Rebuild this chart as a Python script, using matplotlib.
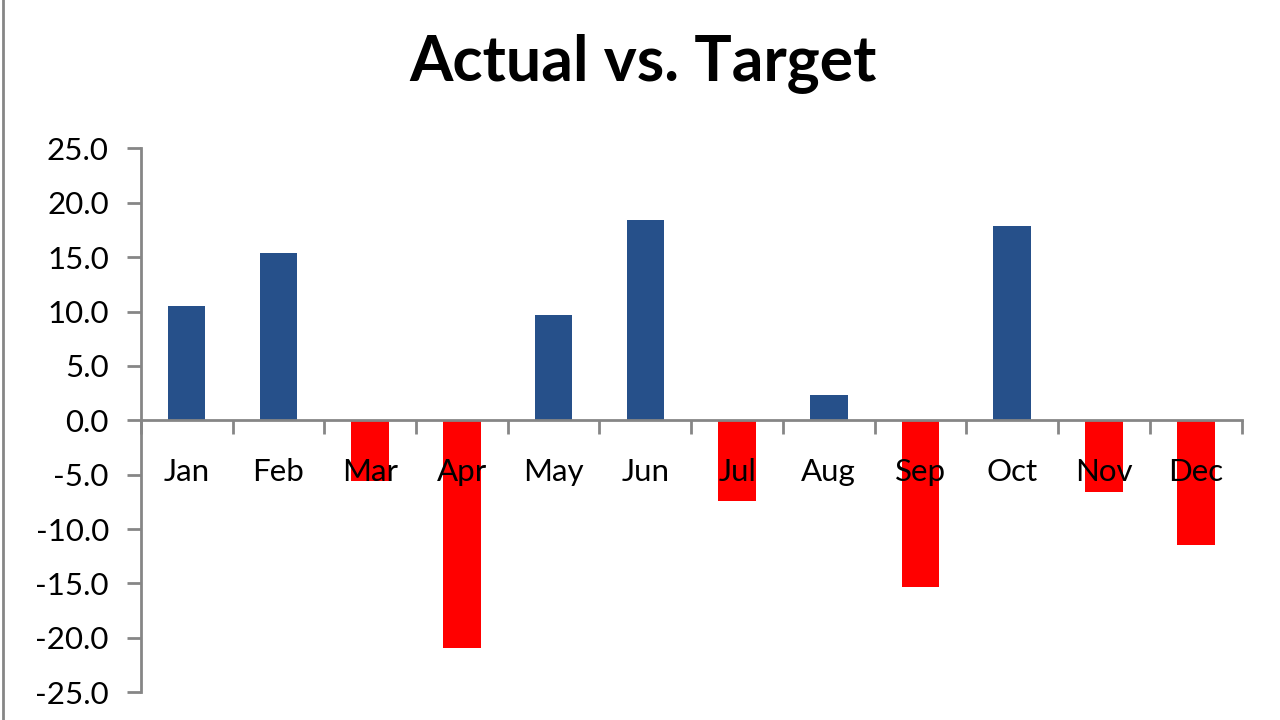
import numpy as np
import matplotlib.pyplot as plt
from matplotlib.lines import Line2D

months = ['Jan', 'Feb', 'Mar', 'Apr', 'May', 'Jun',
          'Jul', 'Aug', 'Sep', 'Oct', 'Nov', 'Dec']
variance = [10.5, 15.4, -5.6, -20.9, 9.7, 18.4,
            -7.4, 2.3, -15.3, 17.9, -6.6, -11.5]
yticks = [-25, -20, -15, -10, -5, 0, 5, 10, 15, 20, 25]

plt.rcParams['font.family'] = ['Lato', 'DejaVu Sans']

fig = plt.figure(figsize=(12.8, 7.2), dpi=100)
ax = fig.add_axes([0.110, 0.0385, 0.860, 0.7555])

x = np.arange(len(months))
colors = ['#26508A' if v >= 0 else '#FF0000' for v in variance]
ax.bar(x, variance, width=0.41, color=colors, zorder=1)

ax.set_xlim(-0.5, len(months) - 0.5)
ax.set_ylim(-25, 25)
ax.set_yticks(yticks)
ax.set_yticklabels([f'{t:.1f}' for t in yticks])

# category ticks sit between bars, labels centred under bars
ax.set_xticks(np.arange(len(months) + 1) - 0.5)
ax.set_xticklabels([])
ax.set_xticks(x, minor=True)
ax.set_xticklabels(months, minor=True)
ax.tick_params(axis='x', which='minor', length=0, pad=27, labelsize=22.5)
ax.tick_params(axis='x', which='major', length=10, width=2, color='#868686')
ax.tick_params(axis='y', length=10, width=2, color='#868686', pad=13, labelsize=22.5)

for s in ['top', 'right']:
    ax.spines[s].set_visible(False)
ax.spines['bottom'].set_position(('data', 0))
for s in ['left', 'bottom']:
    ax.spines[s].set_color('#868686')
    ax.spines[s].set_linewidth(2)

fig.text(0.502, 0.913, 'Actual vs. Target', ha='center', va='center',
         fontsize=45, fontweight='bold')

# chart frame edge on the left
fig.add_artist(Line2D([0.002, 0.002], [0, 1], color='#868686', lw=2,
                      transform=fig.transFigure))

fig.savefig('out.png', dpi=100)
